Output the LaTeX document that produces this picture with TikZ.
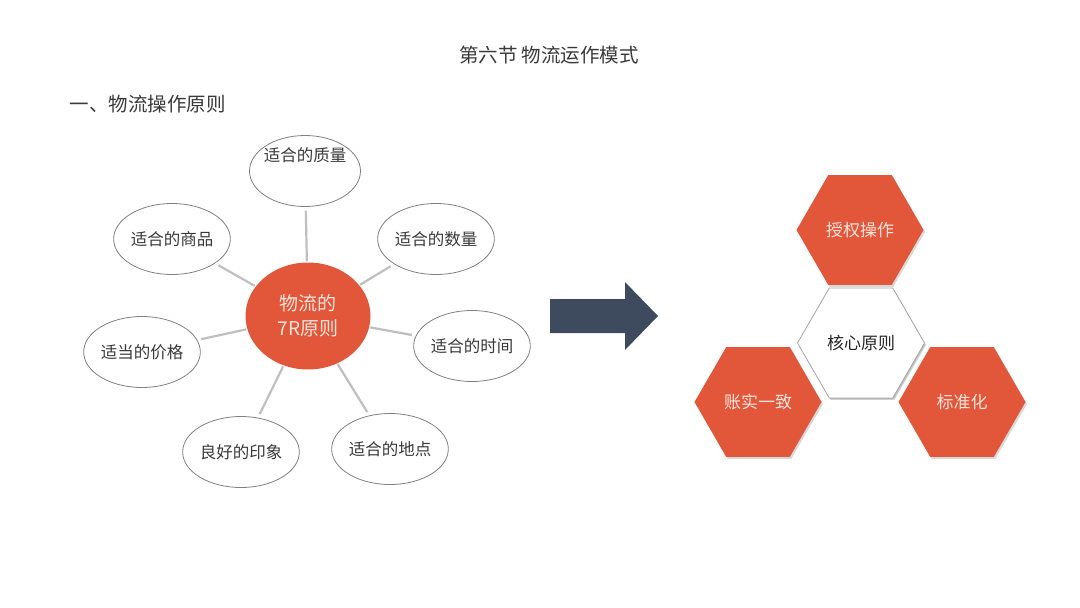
\documentclass[tikz,border=0pt]{standalone}
\usepackage{fontspec}
\newfontfamily\cjk{Noto Sans CJK SC}
\usetikzlibrary{shapes.geometric,shadows}
\definecolor{myorange}{HTML}{E2573A}
\definecolor{myslate}{HTML}{3E4B5E}
\definecolor{mytext}{HTML}{3A3A3A}
\definecolor{lighttext}{HTML}{F8E4DC}
\begin{document}
\begin{tikzpicture}[x=1pt,y=-1pt,
  every node/.style={font=\cjk, text=mytext},
  oval/.style={ellipse, draw=black!50, line width=0.8pt, fill=white,
    minimum width=111pt, minimum height=71pt, inner sep=0pt,
    font=\cjk\fontsize{16.5}{18}\selectfont},
  spoke/.style={draw=black!25, line width=2.2pt, shorten <=1pt, shorten >=4pt},
  hexo/.style={regular polygon, regular polygon sides=6, minimum size=127pt,
    inner sep=0pt, fill=myorange, text=lighttext,
    font=\cjk\fontsize{17}{20}\selectfont,
    drop shadow={shadow xshift=1.5pt, shadow yshift=-2pt, opacity=0.3}},
]
\useasboundingbox[fill=white] (0,0) rectangle (1080,608);

% headings
\node[font=\cjk\fontsize{19.5}{22}\selectfont] (title) at (549,55) {第六节 物流运作模式};
\node[anchor=west, font=\cjk\fontsize{19.5}{22}\selectfont] (sec) at (66,104) {一、物流操作原则};

% left: 7R diagram
\node[ellipse, fill=myorange, minimum width=125pt, minimum height=107pt,
  inner sep=0pt, align=center, text=lighttext,
  font=\cjk\fontsize{19}{25}\selectfont] (core) at (308,316) {物流的\\7R原则};

\node[oval] (q) at (305,171) {};
\node[font=\cjk\fontsize{16.5}{18}\selectfont] (qt) at (305,155) {适合的质量};
\node[oval] (g) at (172,239) {适合的商品};
\node[oval] (n) at (436,239) {适合的数量};
\node[oval] (p) at (142,352) {适当的价格};
\node[oval] (t) at (472,346) {适合的时间};
\node[oval] (i) at (241,452) {良好的印象};
\node[oval, minimum width=115pt] (l) at (390,449) {适合的地点};

\foreach \e in {q,g,n,p,t,i,l}{
  \draw[spoke] (core) -- (\e);
}

% arrow
\fill[myslate] (550,299) -- (625,299) -- (625,282) -- (658,316) -- (625,350)
  -- (625,333) -- (550,333) -- cycle;

% right: hexagons
\node[hexo, fill=white, draw=black!35, line width=0.8pt, text=black!85,
  drop shadow={shadow xshift=1pt, shadow yshift=-1.5pt, opacity=0.25}] (mid) at (861,343) {核心原则};
\node[hexo] (top) at (860,230) {授权操作};
\node[hexo] (bl) at (758,402) {账实一致};
\node[hexo] (br) at (962,402) {标准化};
\end{tikzpicture}
\end{document}
